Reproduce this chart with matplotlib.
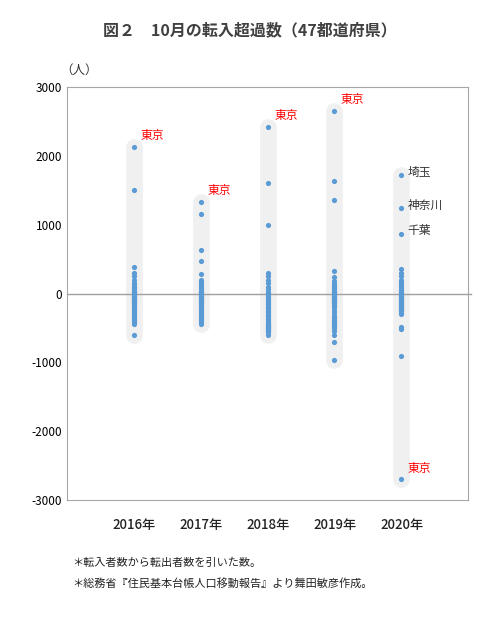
import numpy as np
import matplotlib.pyplot as plt

plt.rcParams['font.family'] = ['Noto Sans CJK JP', 'DejaVu Sans']
plt.rcParams['axes.unicode_minus'] = False

years = ['2016年', '2017年', '2018年', '2019年', '2020年']
# 47 prefectures per year
v2016 = [2130, 1500, 390, 300, 250, 200, 160, 130, 100, 80, 60, 40, 20, 10, 0, -10, -20, -30,
         -40, -50, -60, -70, -80, -90, -100, -110, -120, -130, -140, -150, -160, -170, -180,
         -200, -220, -240, -260, -280, -300, -320, -340, -360, -380, -400, -420, -440, -600]
v2017 = [1330, 1150, 640, 470, 290, 200, 170, 140, 120, 100, 80, 60, 40, 30, 20, 10, 0, -10,
         -20, -30, -40, -50, -60, -70, -80, -90, -100, -110, -120, -130, -140, -150, -160,
         -180, -200, -220, -240, -260, -280, -300, -320, -340, -360, -380, -400, -420, -440]
v2018 = [2420, 1600, 1000, 300, 250, 200, 150, 100, 60, 30, 10, -10, -30, -50, -70, -90,
         -110, -130, -150, -170, -190, -210, -230, -250, -270, -290, -310, -330, -350, -370,
         -390, -410, -430, -440, -450, -460, -470, -480, -490, -500, -510, -520, -530, -540,
         -550, -560, -600]
v2019 = [2650, 1640, 1360, 330, 240, 180, 150, 120, 100, 80, 60, 40, 20, 10, 0, -10, -20, -30,
         -40, -50, -60, -70, -80, -90, -100, -110, -120, -140, -160, -180, -200, -240, -280,
         -320, -340, -360, -380, -400, -420, -440, -460, -480, -500, -550, -600, -700, -960]
v2020 = [1720, 1240, 870, 360, 300, 250, 200, 170, 140, 110, 90, 70, 50, 30, 10, 0, -10, -20,
         -30, -40, -50, -60, -70, -80, -90, -100, -110, -120, -130, -140, -150, -160, -170,
         -180, -190, -200, -210, -220, -230, -240, -260, -280, -300, -480, -510, -900, -2700]
values = [v2016, v2017, v2018, v2019, v2020]

labels = [(0, 2130, '東京', 'red'), (1, 1330, '東京', 'red'), (2, 2420, '東京', 'red'),
          (3, 2650, '東京', 'red'), (4, 1720, '埼玉', '#333333'), (4, 1240, '神奈川', '#333333'),
          (4, 870, '千葉', '#333333'), (4, -2700, '東京', 'red')]

fig = plt.figure(figsize=(5, 6.22), dpi=100)
ax = fig.add_axes([0.134, 0.196, 0.802, 0.664])

for i, v in enumerate(values):
    x = i + 1
    ax.plot([x, x], [min(v), max(v)], color='#f0f0f0', lw=12,
            solid_capstyle='round', zorder=1)
    ax.scatter([x] * len(v), v, s=14, color='#5b9bd5', zorder=3, linewidths=0)

for i, y, t, c in labels:
    off = 70 if c == 'red' else 40
    ax.text(i + 1.1, y + off, t, color=c, fontsize=8.5, va='bottom' if c == 'red' else 'center')

ax.plot([0, 6.05], [0, 0], color='#a0a0a0', lw=1, zorder=2, clip_on=False)
ax.set_xlim(0, 6)
ax.set_ylim(-3000, 3000)
ax.set_yticks(range(-3000, 3001, 1000))
ax.set_xticks([])
ax.tick_params(axis='y', length=0, labelsize=8.5)
for s in ax.spines.values():
    s.set_color('#a6a6a6')

for i, y in enumerate(years):
    fig.text((67 + 67 * (i + 1)) / 500, 1 - 525 / 622, y, ha='center', va='center',
             fontsize=9.5, color='#222222', fontweight='medium')

fig.text(0.5, 1 - 30 / 622, '図２　10月の転入超過数（47都道府県）', ha='center', va='center',
         fontsize=11.5, fontweight='bold', color='#404040')
fig.text(0.12, 1 - 70 / 622, '（人）', fontsize=9, va='center', color='#333333')
fig.text(0.145, 1 - 563 / 622, '＊転入者数から転出者数を引いた数。', fontsize=8, va='center', color='#222222')
fig.text(0.145, 1 - 583 / 622, '＊総務省『住民基本台帳人口移動報告』より舞田敏彦作成。', fontsize=8,
         va='center', color='#222222')

fig.savefig('out.png', dpi=100)
